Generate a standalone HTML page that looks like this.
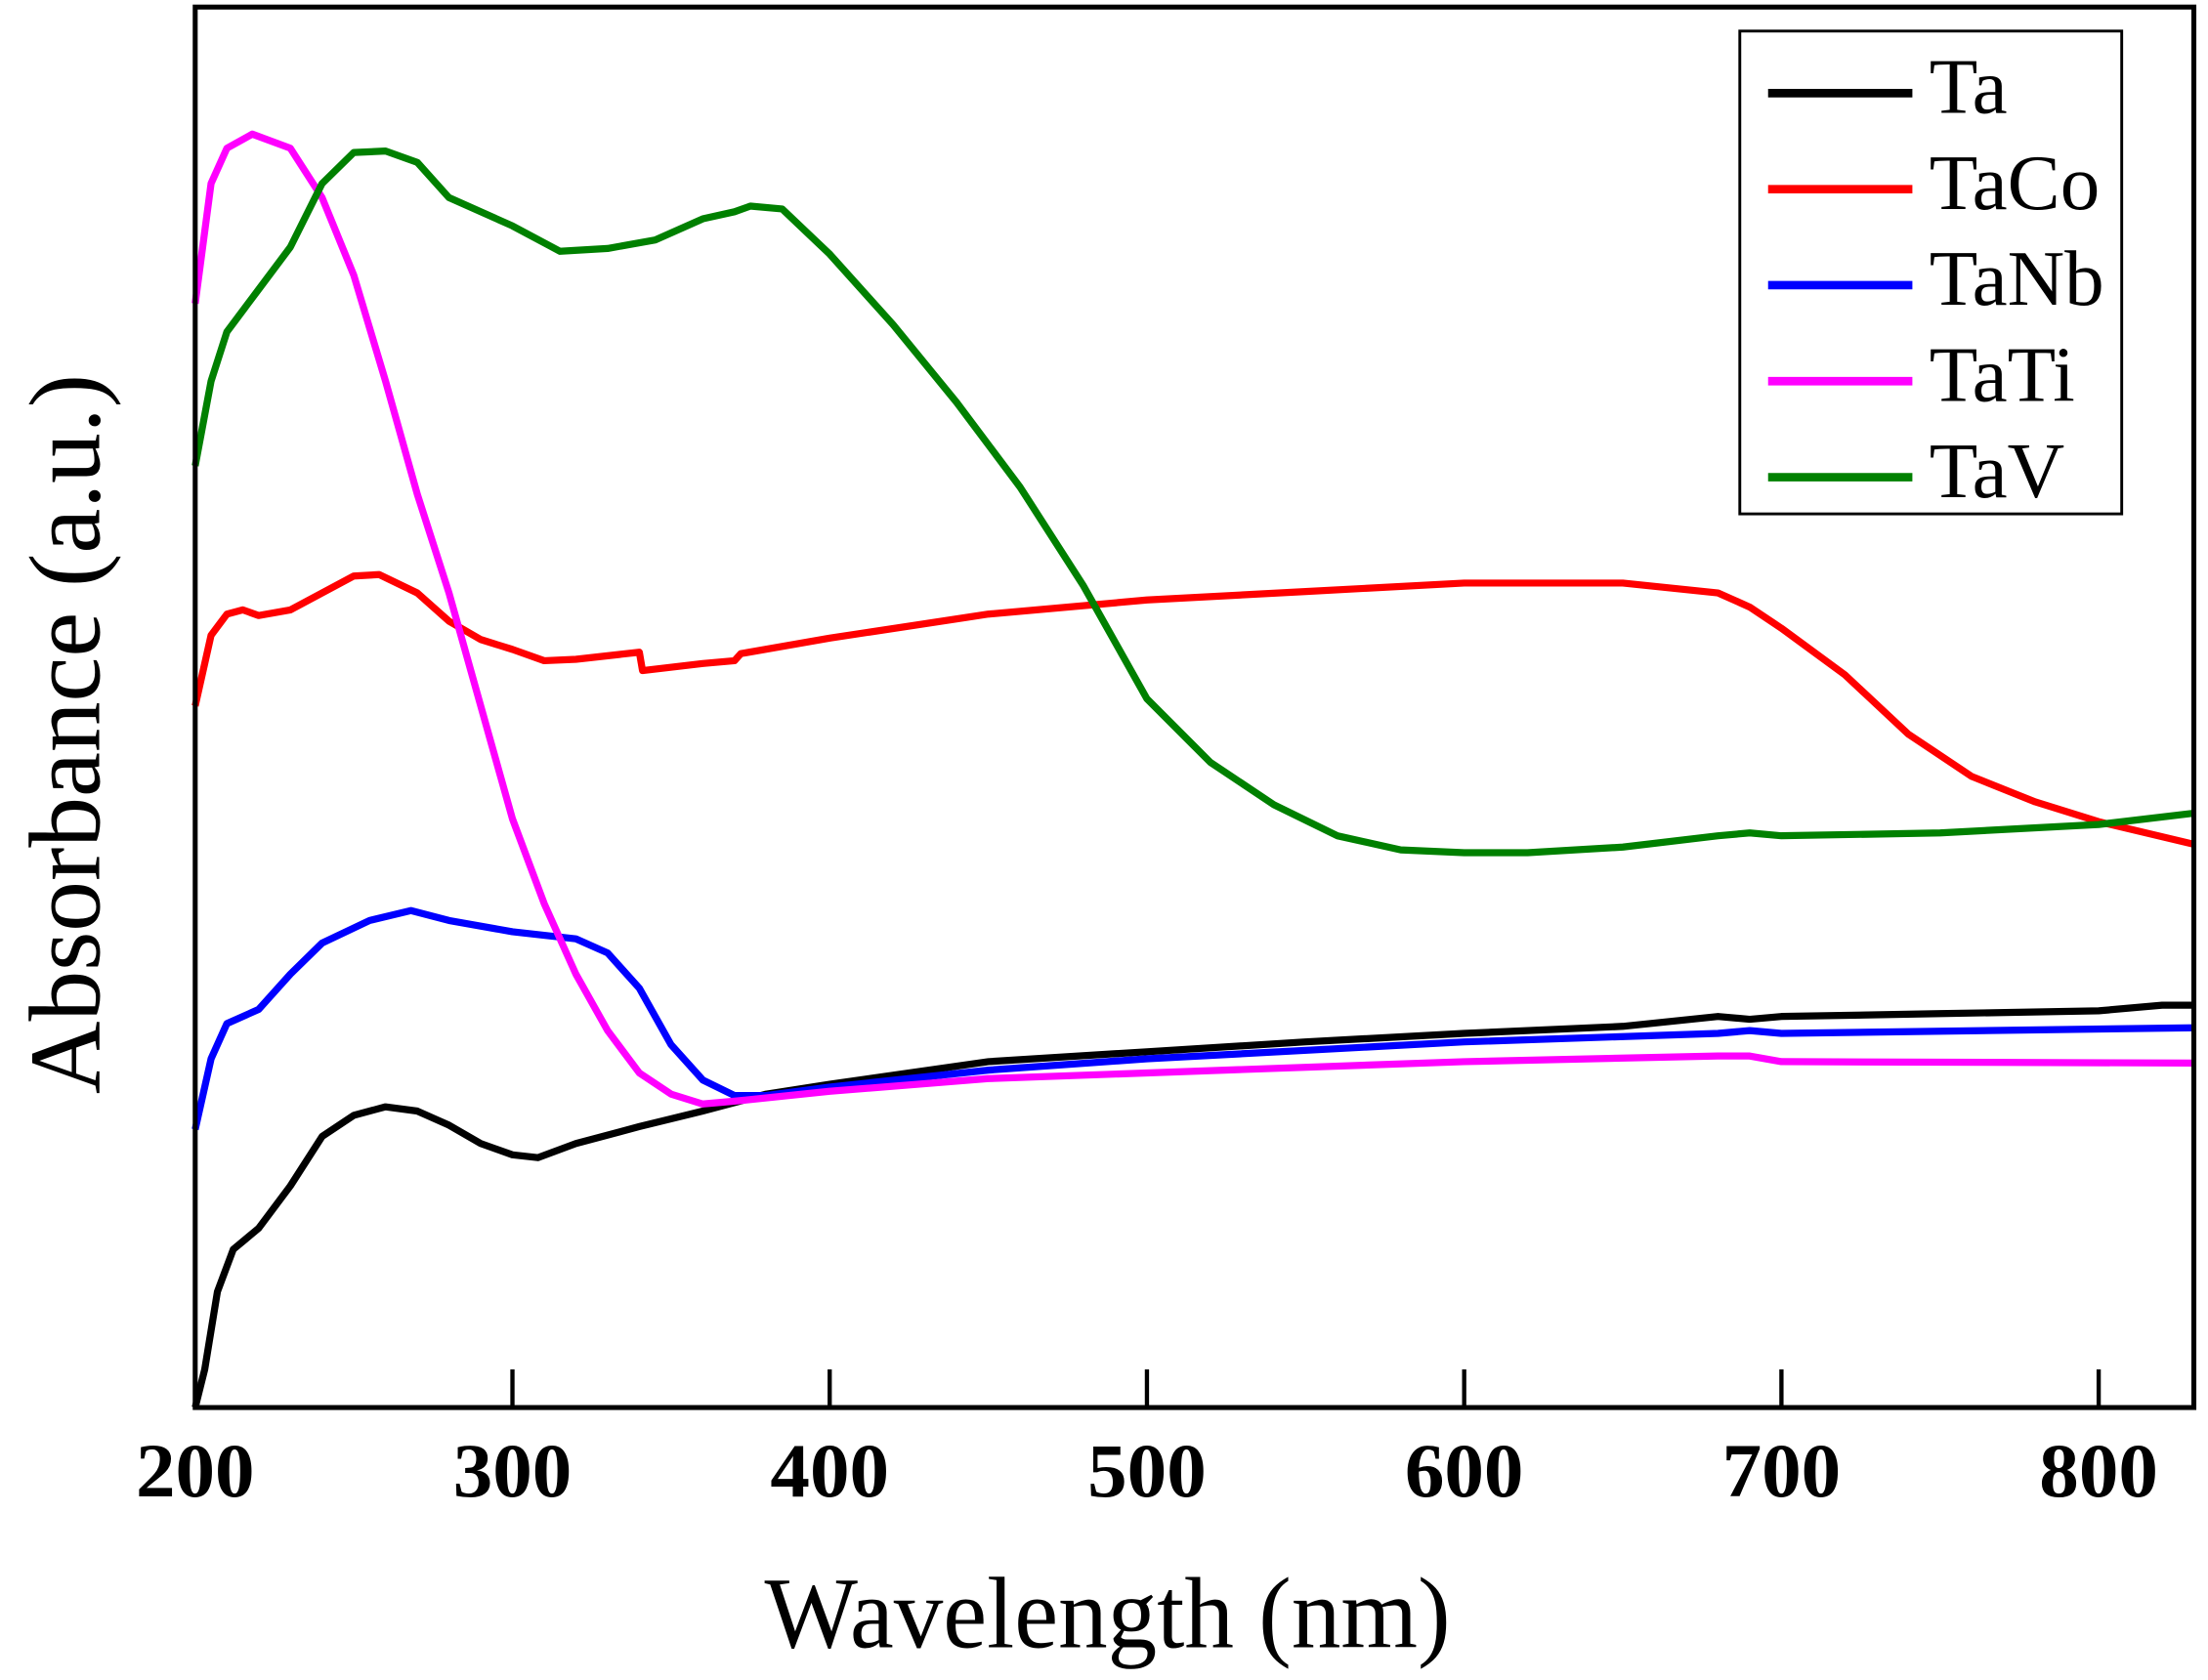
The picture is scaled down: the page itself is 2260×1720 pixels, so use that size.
<!DOCTYPE html>
<html><head><meta charset="utf-8"><style>
html,body{margin:0;padding:0;background:#fff;}
svg{display:block;}
text{font-family:"Liberation Serif",serif;}
</style></head><body>
<svg id="chart" width="2260" height="1720" viewBox="0 0 1561 1190" preserveAspectRatio="none" xmlns="http://www.w3.org/2000/svg">
<g id="series"></g>
<rect x="138" y="5" width="1413" height="992" fill="none" stroke="#000" stroke-width="3.5"/>
<g id="ticks"></g>
<g id="ticklabels"></g>
<text x="783" y="1167" font-size="72" text-anchor="middle" textLength="485" lengthAdjust="spacingAndGlyphs">Wavelength (nm)</text>
<text x="0" y="0" font-size="72" text-anchor="middle" textLength="510" lengthAdjust="spacingAndGlyphs" transform="translate(70,520) rotate(-90)">Absorbance (a.u.)</text>
<g>
<rect x="1230" y="22" width="270" height="342" fill="#fff" stroke="#000" stroke-width="2"/>
<g id="legend-entries"></g>
</g>
</svg>
<script>
const xTicks=[200,300,400,500,600,700,800];
const names=["Ta","TaCo","TaNb","TaTi","TaV"];
const colors=["#000000","#ff0000","#0000ff","#ff00ff","#008000"];
const taX=[200,203,207,212,220,230,240,250,260,270,280,290,300,308,320,340,360,380,400,450,500,550,600,650,680,690,700,750,800,820,830];
const taY=[0,2.7,8.2,11.2,12.7,15.7,19.2,20.7,21.3,21,20,18.7,17.9,17.7,18.7,19.9,21,22.2,22.9,24.5,25.2,25.9,26.5,27,27.7,27.5,27.7,27.9,28.1,28.5,28.5];
const tacoX=[200,205,210,215,220,230,240,250,258,270,280,290,300,310,320,340,341,360,370,372,400,450,500,550,600,650,680,690,700,720,740,760,780,800,830];
const tacoY=[49.7,54.7,56.2,56.5,56.1,56.5,57.7,58.9,59,57.7,55.7,54.4,53.7,52.9,53,53.5,52.2,52.7,52.9,53.4,54.5,56.2,57.2,57.8,58.4,58.4,57.7,56.7,55.2,51.9,47.7,44.7,42.9,41.5,39.9];
const tanbX=[200,205,210,220,230,240,255,268,280,300,320,330,340,350,360,370,380,400,450,500,600,680,690,700,830];
const tanbY=[19.7,24.7,27.2,28.2,30.7,32.9,34.5,35.2,34.5,33.7,33.2,32.2,29.7,25.7,23.2,22.1,22.1,22.7,23.9,24.7,25.9,26.5,26.7,26.5,26.9];
const tatiX=[200,205,210,218,230,240,250,260,270,280,290,300,310,320,330,340,350,360,370,400,450,500,600,680,690,700,830];
const tatiY=[78.2,86.7,89.2,90.2,89.2,85.7,80.2,72.7,64.7,57.7,49.7,41.7,35.7,30.7,26.7,23.7,22.2,21.5,21.7,22.4,23.3,23.7,24.5,24.9,24.9,24.5,24.4];
const tavX=[200,205,210,220,230,240,250,260,270,280,300,315,330,345,360,370,375,385,400,420,440,460,480,500,520,540,560,580,600,620,650,680,690,700,750,800,830];
const tavY=[66.7,72.7,76.2,79.2,82.2,86.7,88.9,89,88.2,85.7,83.7,81.9,82.1,82.7,84.2,84.7,85.1,84.9,81.7,76.7,71.2,65.2,58.2,50.2,45.7,42.7,40.5,39.5,39.3,39.3,39.7,40.5,40.7,40.5,40.7,41.3,42.1];
const seriesX=[taX,tacoX,tanbX,tatiX,tavX];
const seriesY=[taY,tacoY,tanbY,tatiY,tavY];

const NS="http://www.w3.org/2000/svg";
function xs(v){return 138+(v-200)*(1413/630);}
function ys(v){return 997-v*10;}
const sg=document.getElementById('series');
for(let s=0;s<names.length;s++){
  const p=document.createElementNS(NS,'polyline');
  
  
  p.setAttribute('points',seriesX[s].map((x,i)=>xs(x)+','+ys(seriesY[s][i])).join(' '));
  p.setAttribute('fill','none');
  p.setAttribute('stroke',colors[s]);
  p.setAttribute('stroke-width','5');
  p.setAttribute('stroke-linejoin','round');
  sg.appendChild(p);
}
const tg=document.getElementById('ticks'),lg=document.getElementById('ticklabels');
xTicks.forEach(t=>{
  const l=document.createElementNS(NS,'line');
  
  
  l.setAttribute('x1',xs(t));l.setAttribute('x2',xs(t));
  l.setAttribute('y1',997);l.setAttribute('y2',970);
  l.setAttribute('stroke','#000');l.setAttribute('stroke-width','3');
  tg.appendChild(l);
  const tx=document.createElementNS(NS,'text');
  
  
  tx.setAttribute('x',xs(t));tx.setAttribute('y',1060);
  tx.setAttribute('font-size','54');tx.setAttribute('font-weight','bold');
  tx.setAttribute('text-anchor','middle');
  tx.setAttribute('textLength','84');tx.setAttribute('lengthAdjust','spacingAndGlyphs');
  tx.textContent=t;
  lg.appendChild(tx);
});
const le=document.getElementById('legend-entries');
names.forEach((n,i)=>{
  const y=63+i*68;
  const l=document.createElementNS(NS,'line');
  
  
  l.setAttribute('x1',1250);l.setAttribute('x2',1352);l.setAttribute('y1',y+3);l.setAttribute('y2',y+3);
  l.setAttribute('stroke',colors[i]);l.setAttribute('stroke-width','6');
  le.appendChild(l);
  const t=document.createElementNS(NS,'text');
  
  
  t.setAttribute('x',1364);t.setAttribute('y',y+17);
  t.setAttribute('font-size','56');
  t.textContent=n;
  le.appendChild(t);
});
</script>
</body></html>
